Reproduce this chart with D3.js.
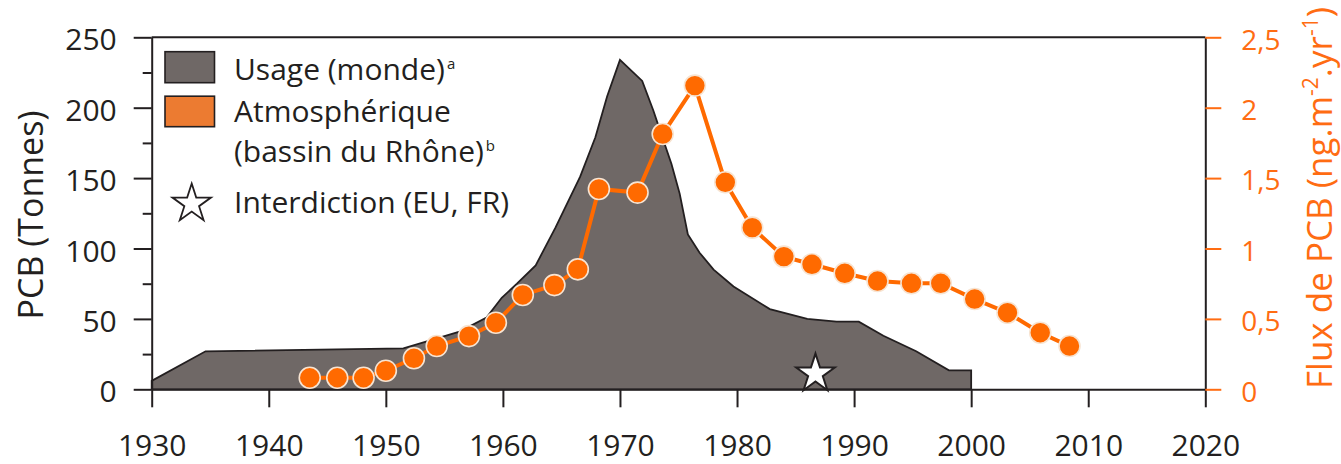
<!DOCTYPE html>
<html>
<head>
<meta charset="utf-8">
<script src="https://cdn.jsdelivr.net/npm/d3@7"></script>
<style>
  html, body { margin: 0; padding: 0; background: #fff; }
  svg { display: block; font-family: "Open Sans", sans-serif; }
</style>
</head>
<body>
<svg id="chart" width="1341" height="464"></svg>
<script>
// ---- Data ----
const usageYears  = [1930, 1934.6, 1951.5, 1956.3, 1958.6, 1959.9, 1961.2, 1962.8, 1964.5, 1966.6, 1967.9, 1968.9, 1970, 1971.9, 1972.85, 1973.7, 1974.4, 1975.1, 1975.8, 1976.8, 1978, 1979.7, 1982.8, 1986, 1988.5, 1990.4, 1992.5, 1995.3, 1998.1, 2000];
const usageValues = [6, 27, 29, 41, 51, 65, 75, 88, 115, 151, 179, 208, 234, 219, 198, 177, 160, 139, 110, 97, 85, 73, 57, 50, 48, 48, 38, 27, 13.5, 13.5];

const fluxYears  = [1943.5, 1945.85, 1948.1, 1950.0, 1952.4, 1954.35, 1957.1, 1959.4, 1961.7, 1964.4, 1966.4, 1968.2, 1971.5, 1973.65, 1976.4, 1979.0, 1981.3, 1984.0, 1986.4, 1989.2, 1992.0, 1994.9, 1997.4, 2000.3, 2003.1, 2005.9, 2008.4];
const fluxValues = [0.082, 0.082, 0.082, 0.132, 0.22, 0.307, 0.378, 0.473, 0.67, 0.74, 0.852, 1.423, 1.397, 1.813, 2.157, 1.47, 1.148, 0.942, 0.888, 0.824, 0.769, 0.753, 0.753, 0.641, 0.544, 0.402, 0.307];

const banYear = 1986.7;
const banValue = 11;

const xTicks = [1930, 1940, 1950, 1960, 1970, 1980, 1990, 2000, 2010, 2020];
const leftTicks = [0, 50, 100, 150, 200, 250];
const leftMinorTicks = [25, 75, 125, 175, 225];
const rightTicks = [0, 0.5, 1, 1.5, 2, 2.5];
const rightTickLabels = ["0", "0,5", "1", "1,5", "2", "2,5"];

const legendItems = ["Usage (monde)", "Atmosphérique", "(bassin du Rhône)", "Interdiction (EU, FR)"];

// ---- Styles ----
const AREA_FILL = "#6f6866";
const ORANGE = "#ff6a00";
const ORANGE_TXT = "#ff6c12";
const LEG_ORANGE = "#ec7b31";
const INK = "#231f20";

const svg = d3.select("#chart");

const x = d3.scaleLinear().domain([1930, 2020]).range([151.7, 1205.3]);
const yL = d3.scaleLinear().domain([0, 250]).range([389.3, 37.3]);
const yR = d3.scaleLinear().domain([0, 2.5]).range([389.3, 37.3]);

// ---- Area ----
const usage = usageYears.map((yr, i) => ({ yr, v: usageValues[i] }));
const area = d3.area().x(d => x(d.yr)).y0(yL(0)).y1(d => yL(d.v));
svg.append("path").datum(usage)
  .attr("d", area)
  .attr("fill", AREA_FILL)
  .attr("stroke", INK)
  .attr("stroke-width", 1.8)
  .attr("stroke-linejoin", "miter");

// ---- Frame: top line ----
svg.append("line")
  .attr("x1", x(1930)).attr("x2", x(2020))
  .attr("y1", yL(250)).attr("y2", yL(250))
  .attr("stroke", INK).attr("stroke-width", 2);

// ---- Left axis ----
const gL = svg.append("g").attr("transform", `translate(${x(1930)},0)`)
  .call(d3.axisLeft(yL).tickValues(leftTicks).tickSize(18).tickSizeOuter(0).tickPadding(17));
gL.select(".domain").attr("stroke", INK).attr("stroke-width", 2);
gL.selectAll(".tick line").attr("stroke", INK).attr("stroke-width", 2);
gL.selectAll(".tick text").attr("font-size", 30).attr("fill", INK).attr("dy", "0.42em")
  .attr("font-family", "Open Sans");

const gLm = svg.append("g").attr("transform", `translate(${x(1930)},0)`)
  .call(d3.axisLeft(yL).tickValues(leftMinorTicks).tickSize(9).tickFormat(""));
gLm.select(".domain").remove();
gLm.selectAll(".tick line").attr("stroke", INK).attr("stroke-width", 2);

// ---- Bottom axis ----
const gB = svg.append("g").attr("transform", `translate(0,${yL(0)})`)
  .call(d3.axisBottom(x).tickValues(xTicks).tickFormat(d3.format("d")).tickSize(18).tickSizeOuter(0).tickPadding(0));
gB.select(".domain").attr("stroke", INK).attr("stroke-width", 2);
gB.selectAll(".tick line").attr("stroke", INK).attr("stroke-width", 2);
gB.selectAll(".tick text").attr("font-size", 30).attr("fill", INK)
  .attr("y", 67).attr("dy", 0).attr("font-family", "Open Sans");

// ---- Right axis ----
const gR = svg.append("g").attr("transform", `translate(${x(2020)},0)`)
  .call(d3.axisRight(yR).tickValues(rightTicks).tickSize(16).tickSizeOuter(0).tickPadding(20)
    .tickFormat((d, i) => rightTickLabels[i]));
gR.select(".domain").attr("stroke", INK).attr("stroke-width", 2);
gR.selectAll(".tick line").attr("stroke", ORANGE_TXT).attr("stroke-width", 2);
gR.selectAll(".tick text").attr("font-size", 28).attr("fill", ORANGE_TXT).attr("dy", "0.42em")
  .attr("font-family", "Open Sans");

// ---- Axis titles ----
svg.append("text")
  .attr("transform", `translate(43,215) rotate(-90)`)
  .attr("text-anchor", "middle")
  .attr("font-size", 34).attr("fill", INK)
  .text("PCB (Tonnes)");

const rt = svg.append("text")
  .attr("transform", `translate(1332,198) rotate(-90)`)
  .attr("text-anchor", "middle")
  .attr("font-size", 35).attr("fill", ORANGE_TXT);
rt.append("tspan").text("Flux de PCB (ng.m");
rt.append("tspan").attr("font-size", 21).attr("dy", -14).text("-2");
rt.append("tspan").attr("dy", 14).text(".yr");
rt.append("tspan").attr("font-size", 21).attr("dy", -14).text("-1");
rt.append("tspan").attr("dy", 14).text(")");

// ---- Flux line & dots ----
const flux = fluxYears.map((yr, i) => ({ yr, v: fluxValues[i] }));
svg.append("path").datum(flux)
  .attr("d", d3.line().x(d => x(d.yr)).y(d => yR(d.v)))
  .attr("fill", "none").attr("stroke", ORANGE).attr("stroke-width", 4);
svg.append("g").selectAll("circle").data(flux).join("circle")
  .attr("cx", d => x(d.yr)).attr("cy", d => yR(d.v)).attr("r", 10.5)
  .attr("fill", ORANGE).attr("stroke", "#f7e4d2").attr("stroke-width", 1.6);

// ---- Ban star ----
const star = d3.symbol().type(d3.symbolStar).size(460);
svg.append("path")
  .attr("d", star())
  .attr("transform", `translate(${x(banYear)},${yL(banValue)})`)
  .attr("fill", "#fff").attr("stroke", INK).attr("stroke-width", 2).attr("stroke-linejoin", "miter");

// ---- Legend ----
const lg = svg.append("g");
lg.append("rect").attr("x", 165).attr("y", 51.7).attr("width", 49.5).attr("height", 31)
  .attr("fill", AREA_FILL).attr("stroke", INK).attr("stroke-width", 1.6);
lg.append("rect").attr("x", 165).attr("y", 96.2).attr("width", 49.5).attr("height", 30.5)
  .attr("fill", LEG_ORANGE).attr("stroke", INK).attr("stroke-width", 1.6);
lg.append("path").attr("d", star())
  .attr("transform", "translate(191.7,203.8)")
  .attr("fill", "#fff").attr("stroke", INK).attr("stroke-width", 1.8);

const lt = (txt, yb, sup) => {
  const t = lg.append("text").attr("x", 234).attr("y", yb).attr("font-size", 30).attr("fill", INK);
  t.append("tspan").text(txt);
  if (sup) t.append("tspan").attr("font-size", 15).attr("dy", -11).attr("dx", 2).text(sup);
};
lt(legendItems[0], 80, "a");
lt(legendItems[1], 122, null);
lt(legendItems[2], 162, "b");
lt(legendItems[3], 213, null);
</script>
</body>
</html>
